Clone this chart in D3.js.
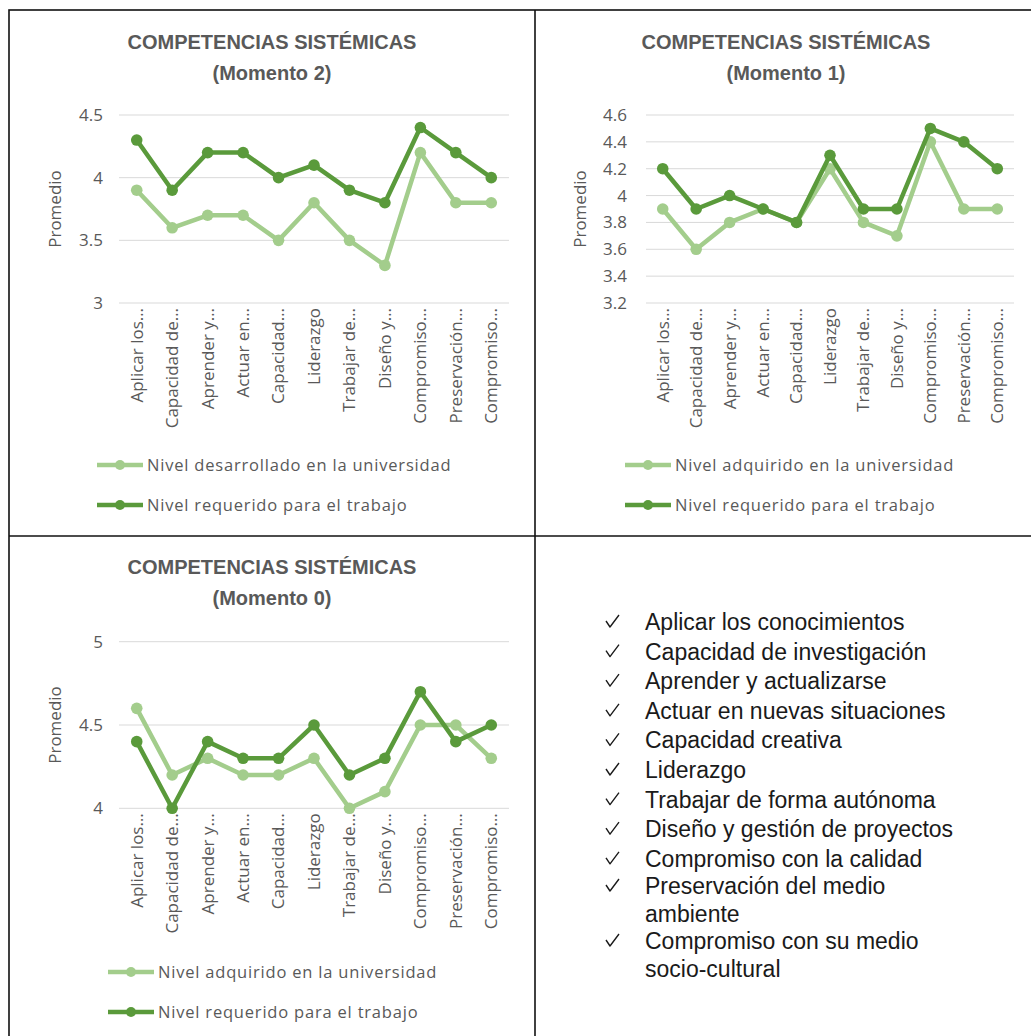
<!DOCTYPE html>
<html>
<head>
<meta charset="utf-8">
<script src="https://cdn.jsdelivr.net/npm/d3@7"></script>
<style>
  html, body { margin: 0; padding: 0; background: #fff; }
  svg { display: block; }
</style>
</head>
<body>
<svg id="chart" width="1031" height="1036"></svg>
<script>
// ---------- DATA ----------
const categories = ["Aplicar los…", "Capacidad de…", "Aprender y…", "Actuar en…", "Capacidad…",
  "Liderazgo", "Trabajar de…", "Diseño y…", "Compromiso…", "Preservación…", "Compromiso…"];

// Momento 2
const m2Desarrollado = [3.9, 3.6, 3.7, 3.7, 3.5, 3.8, 3.5, 3.3, 4.2, 3.8, 3.8];
const m2Requerido    = [4.3, 3.9, 4.2, 4.2, 4.0, 4.1, 3.9, 3.8, 4.4, 4.2, 4.0];
const m2Ticks = [3, 3.5, 4, 4.5];

// Momento 1
const m1Adquirido = [3.9, 3.6, 3.8, 3.9, 3.8, 4.2, 3.8, 3.7, 4.4, 3.9, 3.9];
const m1Requerido = [4.2, 3.9, 4.0, 3.9, 3.8, 4.3, 3.9, 3.9, 4.5, 4.4, 4.2];
const m1Ticks = [3.2, 3.4, 3.6, 3.8, 4, 4.2, 4.4, 4.6];

// Momento 0
const m0Adquirido = [4.6, 4.2, 4.3, 4.2, 4.2, 4.3, 4.0, 4.1, 4.5, 4.5, 4.3];
const m0Requerido = [4.4, 4.0, 4.4, 4.3, 4.3, 4.5, 4.2, 4.3, 4.7, 4.4, 4.5];
const m0Ticks = [4, 4.5, 5];

const titleLine1 = "COMPETENCIAS SISTÉMICAS";
const yTitle = "Promedio";
const legendDesarrollado = "Nivel desarrollado en la universidad";
const legendAdquirido = "Nivel adquirido en la universidad";
const legendRequerido = "Nivel requerido para el trabajo";

const listItems = [
  ["Aplicar los conocimientos"],
  ["Capacidad de investigación"],
  ["Aprender y actualizarse"],
  ["Actuar en nuevas situaciones"],
  ["Capacidad creativa"],
  ["Liderazgo"],
  ["Trabajar de forma autónoma"],
  ["Diseño y gestión de proyectos"],
  ["Compromiso con la calidad"],
  ["Preservación del medio", "ambiente"],
  ["Compromiso con su medio", "socio-cultural"]
];

// ---------- STYLE ----------
const LIGHT = "#a3cd8c";
const DARK = "#5a9a3b";
const GRID = "#d9d9d9";
const TXT = "#595959";
const FONT = "'Open Sans', 'DejaVu Sans', sans-serif";
const TITLE_FONT = "'Liberation Sans Narrow', 'Liberation Sans', sans-serif";

const svg = d3.select("#chart");

// Table borders
const borders = svg.append("g").attr("stroke", "#111").attr("stroke-width", 1.6).attr("fill", "none");
borders.append("rect").attr("x", 9).attr("y", 10).attr("width", 1040).attr("height", 1040);
borders.append("line").attr("x1", 535).attr("x2", 535).attr("y1", 10).attr("y2", 1036);
borders.append("line").attr("x1", 9).attr("x2", 1031).attr("y1", 536).attr("y2", 536);

function drawChart(cfg) {
  const g = svg.append("g");
  const x = d3.scaleBand().domain(d3.range(categories.length)).range([cfg.x0, cfg.x1]);
  const y = d3.scaleLinear().domain(cfg.domain).range([cfg.yBottom, cfg.yTop]);

  // Title
  g.append("text").attr("x", cfg.cx).attr("y", cfg.titleY)
    .attr("text-anchor", "middle").attr("font-family", TITLE_FONT)
    .attr("font-weight", "bold").attr("font-size", 20).attr("fill", TXT).text(titleLine1);
  g.append("text").attr("x", cfg.cx).attr("y", cfg.titleY + 31)
    .attr("text-anchor", "middle").attr("font-family", TITLE_FONT)
    .attr("font-weight", "bold").attr("font-size", 20).attr("fill", TXT).text(cfg.title2);

  // Gridlines
  g.append("g").selectAll("line").data(cfg.ticks).join("line")
    .attr("x1", cfg.x0).attr("x2", cfg.x1)
    .attr("y1", d => y(d)).attr("y2", d => y(d))
    .attr("stroke", GRID).attr("stroke-width", 1);

  // Y axis
  const yAxis = d3.axisLeft(y).tickValues(cfg.ticks).tickFormat(d => String(d)).tickSize(0).tickPadding(0);
  const ya = g.append("g").attr("transform", `translate(${cfg.yLabelX},0)`).call(yAxis);
  ya.select(".domain").remove();
  ya.selectAll("text").attr("font-family", FONT).attr("font-size", 17).attr("fill", TXT);

  // Y title
  g.append("text").attr("transform", `translate(${cfg.yTitleX},${(y.range()[0] + y.range()[1]) / 2}) rotate(-90)`)
    .attr("text-anchor", "middle").attr("dy", "0.35em")
    .attr("font-family", FONT).attr("font-size", 17).attr("fill", TXT).text(yTitle);

  // X axis
  const xAxis = d3.axisBottom(x).tickFormat(i => categories[i]).tickSize(0).tickPadding(0);
  const xa = g.append("g").attr("transform", `translate(0,${cfg.yBottom})`).call(xAxis);
  xa.select(".domain").remove();
  xa.selectAll("text")
    .attr("transform", "rotate(-90)")
    .attr("x", -5).attr("y", 0).attr("dy", "0.35em")
    .attr("text-anchor", "end")
    .attr("font-family", FONT).attr("font-size", 17).attr("fill", TXT);

  const line = d3.line().x((d, i) => x(i) + x.bandwidth() / 2).y(d => y(d));
  [[cfg.light, LIGHT], [cfg.dark, DARK]].forEach(([vals, color]) => {
    g.append("path").datum(vals).attr("d", line)
      .attr("fill", "none").attr("stroke", color).attr("stroke-width", 4.5)
      .attr("stroke-linejoin", "round");
    g.append("g").selectAll("circle").data(vals).join("circle")
      .attr("cx", (d, i) => x(i) + x.bandwidth() / 2).attr("cy", d => y(d))
      .attr("r", 5.8).attr("fill", color);
  });

  // Legend
  [[cfg.lightLabel, LIGHT, 0], [legendRequerido, DARK, 1]].forEach(([label, color, k]) => {
    const ly = cfg.legY + k * 40;
    g.append("line").attr("x1", cfg.legX).attr("x2", cfg.legX + 46).attr("y1", ly).attr("y2", ly)
      .attr("stroke", color).attr("stroke-width", 4.5);
    g.append("circle").attr("cx", cfg.legX + 23).attr("cy", ly).attr("r", 5).attr("fill", color);
    g.append("text").attr("x", cfg.legX + 50).attr("y", ly).attr("dy", "0.35em")
      .attr("font-family", FONT).attr("font-size", 16.5).attr("letter-spacing", 0.8)
      .attr("fill", TXT).text(label);
  });
}

drawChart({ cx: 272, titleY: 49, title2: "(Momento 2)", x0: 119, x1: 509, yTop: 115, yBottom: 303,
  domain: [3, 4.5], ticks: m2Ticks, yLabelX: 103, yTitleX: 55,
  light: m2Desarrollado, dark: m2Requerido, lightLabel: legendDesarrollado, legX: 97, legY: 465 });

drawChart({ cx: 786, titleY: 49, title2: "(Momento 1)", x0: 646, x1: 1014, yTop: 115, yBottom: 303,
  domain: [3.2, 4.6], ticks: m1Ticks, yLabelX: 627, yTitleX: 580,
  light: m1Adquirido, dark: m1Requerido, lightLabel: legendAdquirido, legX: 625, legY: 465 });

drawChart({ cx: 272, titleY: 574, title2: "(Momento 0)", x0: 119, x1: 509, yTop: 641.7, yBottom: 808.3,
  domain: [4, 5], ticks: m0Ticks, yLabelX: 103, yTitleX: 55,
  light: m0Adquirido, dark: m0Requerido, lightLabel: legendAdquirido, legX: 108, legY: 972 });

// Checklist
const lg = svg.append("g").attr("font-family", "'Liberation Sans', Arial, sans-serif").attr("fill", "#1a1a1a");
listItems.forEach((item, i) => {
  item.forEach((txt, j) => {
    const yy = i < 9 ? 622 + i * 29.6 : (i === 9 ? 886 : 941) + j * 27.5;
    if (j === 0) {
      // check mark glyph drawn as a small stroked path
      lg.append("path")
        .attr("d", `M${606},${yy - 1} L${610},${yy + 5} L${619},${yy - 7}`)
        .attr("fill", "none").attr("stroke", "#1a1a1a").attr("stroke-width", 1.4)
        .attr("stroke-linejoin", "round");
    }
    lg.append("text").attr("x", 645).attr("y", yy).attr("dy", "0.35em")
      .attr("font-size", 23).text(txt);
  });
});
</script>
</body>
</html>
